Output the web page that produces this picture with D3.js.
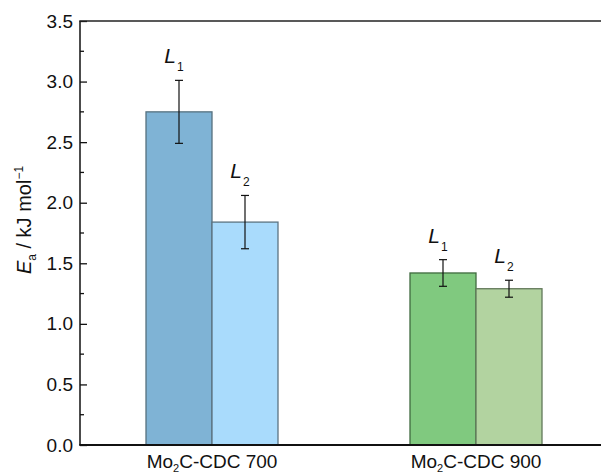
<!DOCTYPE html>
<html><head><meta charset="utf-8">
<script src="https://cdn.jsdelivr.net/npm/d3@7"></script>
<style>body{margin:0;background:#fff}svg{display:block}text{font-family:"Liberation Sans",Arial,sans-serif;fill:#111}</style>
</head><body><svg id="c" width="601" height="475"></svg>
<script>
const categories = ["700", "900"];
const series = ["L1", "L2"];
const values = [[2.75, 1.84], [1.42, 1.29]];
const errors = [[0.26, 0.22], [0.11, 0.07]];
const yTicks = [0, 0.5, 1.0, 1.5, 2.0, 2.5, 3.0, 3.5];
const colors = [["#7fb3d5", "#a9dbfc"], ["#80c97f", "#b2d3a0"]];
const strokes = [["#56717f", "#5c7482"], ["#3f6a3f", "#62785a"]];

const svg = d3.select("#c");
const L = 80, T = 21, B = 445;
const y = d3.scaleLinear().domain([0, 3.5]).range([B, T]);
const x = d3.scalePoint().domain(categories).range([L, 608]).padding(0.5);
const xs = d3.scaleBand().domain(series).range([-66, 66]).padding(0);

// bars
categories.forEach((c, i) => {
  series.forEach((s, j) => {
    const x0 = x(c) + xs(s);
    svg.append("rect").attr("x", x0).attr("y", y(values[i][j]))
      .attr("width", xs.bandwidth()).attr("height", B - y(values[i][j]))
      .attr("fill", colors[i][j]).attr("stroke", strokes[i][j]).attr("stroke-width", 1.3);
  });
});
// error bars
categories.forEach((c, i) => {
  series.forEach((s, j) => {
    const cx = x(c) + xs(s) + xs.bandwidth() / 2;
    const hi = y(values[i][j] + errors[i][j]), lo = y(values[i][j] - errors[i][j]);
    const g = svg.append("g").attr("stroke", "#111").attr("stroke-width", 1.2);
    g.append("line").attr("x1", cx).attr("x2", cx).attr("y1", hi).attr("y2", lo);
    g.append("line").attr("x1", cx - 4).attr("x2", cx + 4).attr("y1", hi).attr("y2", hi);
    g.append("line").attr("x1", cx - 4).attr("x2", cx + 4).attr("y1", lo).attr("y2", lo);
    const t = svg.append("text").attr("x", cx - 5).attr("y", hi - 17)
      .attr("font-size", 21).attr("text-anchor", "middle");
    t.append("tspan").attr("font-style", "italic").text("L");
    t.append("tspan").attr("font-size", 12).attr("dx", 1).attr("dy", 8).text(s.slice(1));
  });
});

// axes
const yAxis = d3.axisLeft(y).tickValues(yTicks).tickSizeInner(-7).tickSizeOuter(0)
  .tickFormat(d3.format(".1f")).tickPadding(7);
const ga = svg.append("g").attr("transform", `translate(${L},0)`).call(yAxis);
ga.select(".domain").remove();
ga.selectAll("line").attr("stroke", "#111").attr("stroke-width", 1.3);
ga.selectAll("text").attr("font-size", 19).style("font-family", '"Liberation Sans",Arial,sans-serif').attr("fill", "#111");
const minor = d3.range(0.25, 3.5, 0.5);
svg.append("g").selectAll("line").data(minor).join("line")
  .attr("x1", L).attr("x2", L + 4).attr("y1", d => y(d)).attr("y2", d => y(d))
  .attr("stroke", "#111").attr("stroke-width", 1.3);

svg.append("line").attr("x1", L).attr("x2", L).attr("y1", T).attr("y2", B).attr("stroke", "#111").attr("stroke-width", 1.5);
svg.append("line").attr("x1", L - 0.75).attr("x2", 601).attr("y1", T).attr("y2", T).attr("stroke", "#222").attr("stroke-width", 1.5);
svg.append("line").attr("x1", L - 0.75).attr("x2", 601).attr("y1", B).attr("y2", B).attr("stroke", "#111").attr("stroke-width", 2);

// category labels
categories.forEach(c => {
  const t = svg.append("text").attr("x", x(c)).attr("y", 468).attr("font-size", 19)
    .attr("text-anchor", "middle");
  t.append("tspan").text("Mo");
  t.append("tspan").attr("font-size", 11).attr("dy", 3.5).text("2");
  t.append("tspan").attr("dy", -3.5).text("C-CDC " + c);
});

// y label
const yl = svg.append("text").attr("transform", "translate(31,220) rotate(-90)")
  .attr("text-anchor", "middle").attr("font-size", 20);
yl.append("tspan").attr("font-style", "italic").text("E");
yl.append("tspan").attr("font-size", 12).attr("dy", 5).text("a");
yl.append("tspan").attr("dy", -5).text(" / kJ mol");
yl.append("tspan").attr("font-size", 12).attr("dy", -8).text("−1");
</script></body></html>
